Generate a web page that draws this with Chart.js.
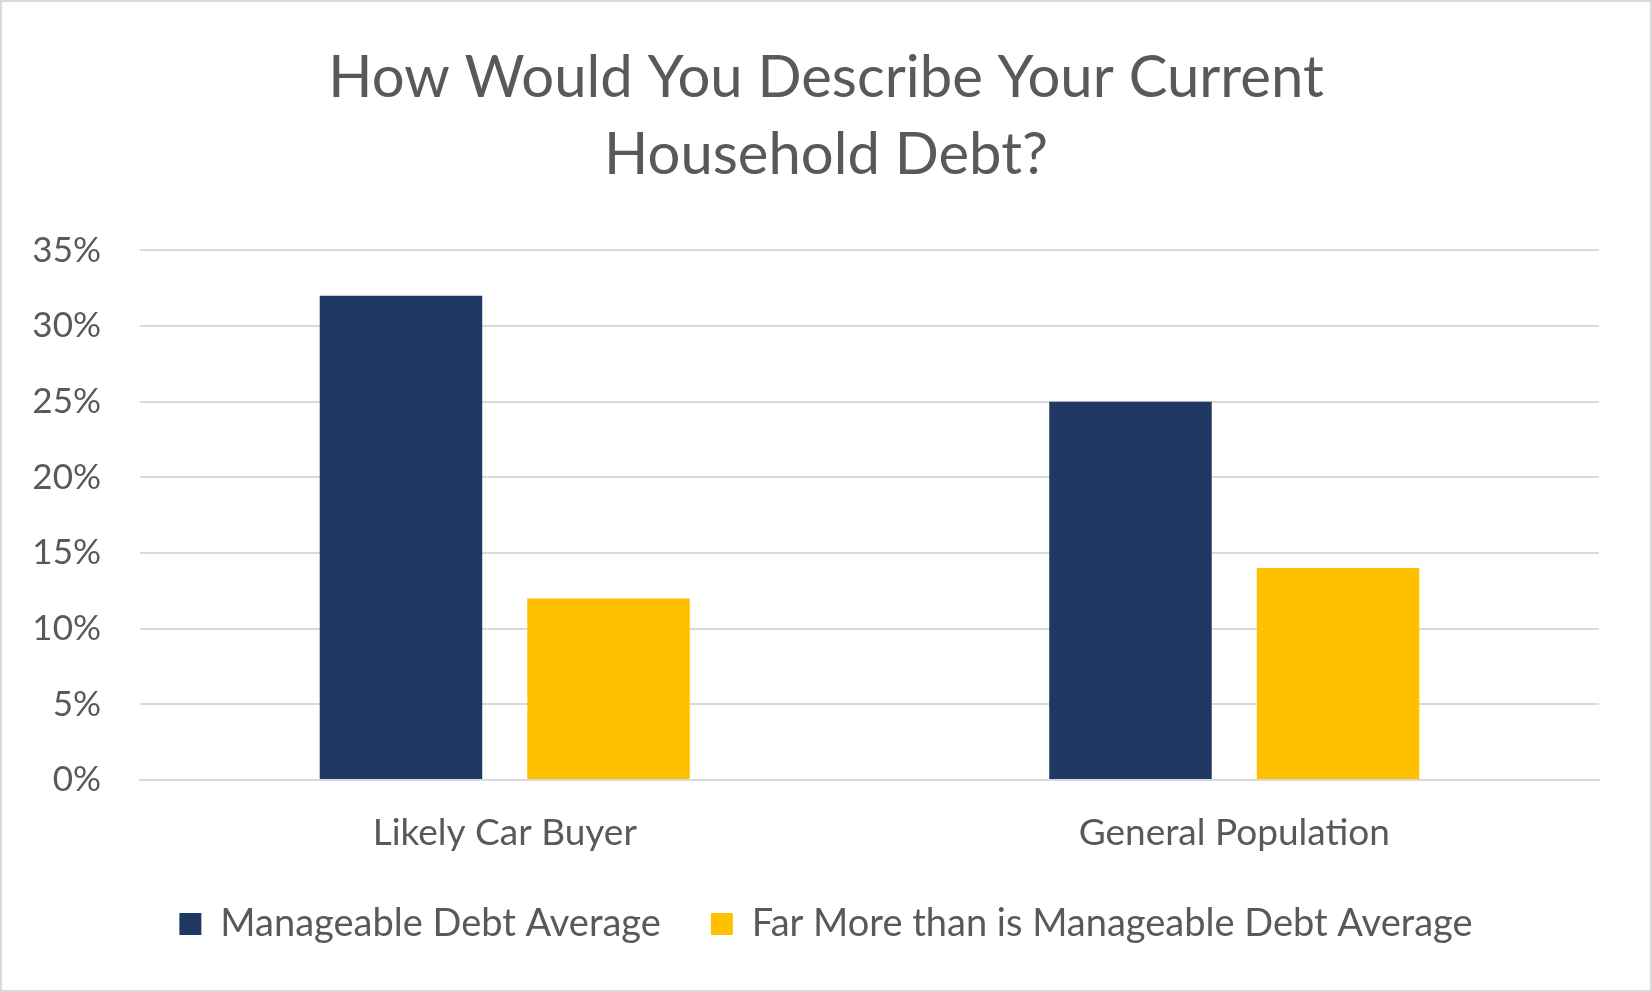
<!DOCTYPE html>
<html>
<head>
<meta charset="utf-8">
<script src="https://cdn.jsdelivr.net/npm/chart.js@4.4.1/dist/chart.umd.min.js"></script>
<style>
  html, body { margin: 0; padding: 0; background: #fff; }
  #wrap {
    width: 1652px; height: 992px; box-sizing: border-box;
    border: 2px solid #d9d9d9; background: #fff;
  }
  #debtChart { display: block; }
</style>
</head>
<body>
<div id="wrap"><canvas id="debtChart" width="1648" height="988"></canvas></div>
<script>
// household debt chart

const categories = ["Likely Car Buyer", "General Population"];
const seriesNames = ["Manageable Debt Average", "Far More than is Manageable Debt Average"];
const manageable = [32, 25];
const farMore = [12, 14];
const yTicks = [0, 5, 10, 15, 20, 25, 30, 35];

const textColor = "#595959";
const font = "Lato";

const ctx = document.getElementById("debtChart").getContext("2d");

let chart = new Chart(ctx, {
  type: "bar",
  data: {
    labels: categories,
    datasets: [
      {
        label: seriesNames[0],
        data: manageable,
        backgroundColor: "#203864",
        categoryPercentage: 0.569,
        barPercentage: 0.783
      },
      {
        label: seriesNames[1],
        data: farMore,
        backgroundColor: "#FFC000",
        categoryPercentage: 0.569,
        barPercentage: 0.783
      }
    ]
  },
  options: {
    responsive: false,
    animation: false,
    layout: {
      // symmetric so the title sits in the middle of the frame
      padding: { left: 28, right: 28, top: 0, bottom: 37 }
    },
    plugins: {
      title: {
        display: true,
        text: ["How Would You Describe Your Current", "Household Debt?"],
        color: textColor,
        font: { family: font, size: 58, weight: "normal", lineHeight: 1.33 },
        padding: { top: 38, bottom: 56 }
      },
      legend: {
        position: "bottom",
        labels: {
          color: textColor,
          font: { family: font, size: 38 },
          boxWidth: 22,
          boxHeight: 22,
          padding: 50
        }
      },
      tooltip: { enabled: false }
    },
    scales: {
      y: {
        min: 0,
        max: 35,
        afterBuildTicks: axis => {
          axis.ticks = yTicks.map(v => ({ value: v }));
        },
        afterFit: axis => { axis.width = 110; },
        ticks: {
          color: textColor,
          font: { family: font, size: 35 },
          padding: 39,
          callback: v => v + "%"
        },
        grid: { color: "#d9d9d9", lineWidth: 2, drawTicks: false },
        border: { display: false }
      },
      // empty right-hand spacer, keeps the plot area off the right edge
      yRight: {
        position: "right",
        afterFit: axis => { axis.width = 23; },
        ticks: { display: false },
        grid: { display: false, drawTicks: false },
        border: { display: false }
      },
      x: {
        afterFit: axis => { axis.height = 75; },
        ticks: {
          color: textColor,
          font: { family: font, size: 37 },
          padding: 31
        },
        grid: { display: false, drawTicks: false },
        border: { display: true, color: "#d9d9d9", width: 2 }
      }
    }
  }
});
</script>
</body>
</html>
